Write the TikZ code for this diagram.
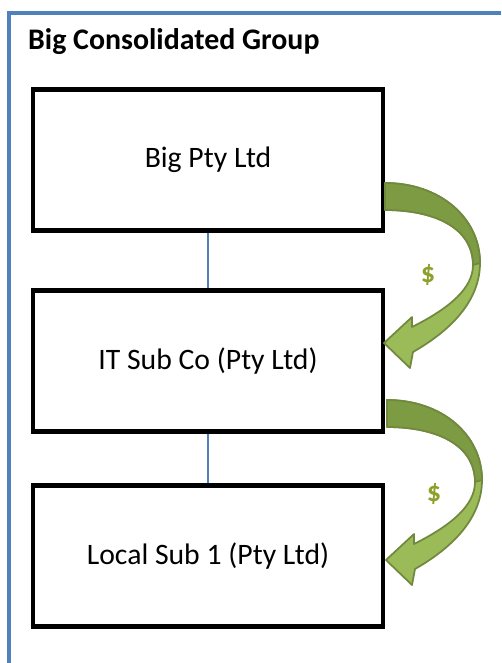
\documentclass[tikz,border=0pt]{standalone}
\usepackage{fontspec}
\setmainfont{Carlito}
\usepackage{tikz}
\usetikzlibrary{positioning}

\definecolor{marco}{HTML}{4F81BD}
\definecolor{verdeclaro}{HTML}{9BBB59}
\definecolor{verdeoscuro}{HTML}{7D9B42}
\definecolor{borde}{HTML}{71893F}
\definecolor{dolar}{HTML}{8E9F2C}

\tikzset{
  empresa/.style={draw, line width=2.3pt, minimum width=7cm, minimum height=2.82cm,
    font=\fontsize{16.9}{20}\selectfont},
  enlace/.style={draw=marco, line width=0.6pt},
  flecha/.pic={
    % cinta completa
    \filldraw[fill=verdeclaro, draw=borde, line width=1pt, line join=round]
      (0,0) .. controls (55,0) and (95,35) .. (95,80)
      .. controls (95,115) and (70,145) .. (28,169)
      -- (25,185) -- (-1,160) -- (27,134) -- (27,144)
      .. controls (65,125) and (88,105) .. (88,82)
      .. controls (88,45) and (50,27) .. (0,27) -- cycle;
    % parte de atras
    \filldraw[fill=verdeoscuro, draw=borde, line width=1pt, line join=round]
      (0,0) .. controls (55,0) and (95,35) .. (95,80)
      -- (88,82) .. controls (88,45) and (50,27) .. (0,27) -- cycle;
  }
}

\begin{document}
\begin{tikzpicture}[x=0.02cm, y=-0.02cm]
  \useasboundingbox (0,0) rectangle (501,663);

  % Marco
  \coordinate (m1) at (9,663);
  \coordinate (m2) at (9,13);
  \coordinate (m3) at (501,13);
  \draw[marco, line width=2.2pt] (m1) -- (m2) -- (m3);
  \node[anchor=west, font=\fontsize{17}{20}\selectfont\bfseries] (titulo) at (22,42) {Big Consolidated Group};

  % Nodos
  \node[empresa] (big) at (208,160) {Big Pty Ltd};
  \node[empresa] (it) at (208,361) {IT Sub Co (Pty Ltd)};
  \node[empresa] (local) at (208,556) {Local Sub 1 (Pty Ltd)};

  % Aristas
  \draw[enlace] (big) -- (it);
  \draw[enlace] (it) -- (local);

  % Flechas de dinero
  \pic at (385,183) {flecha};
  \pic at (387,400) {flecha};
  \node[text=dolar, font=\fontsize{16}{18}\selectfont\bfseries] (d1) at (428,275) {\$};
  \node[text=dolar, font=\fontsize{16}{18}\selectfont\bfseries] (d2) at (434,494) {\$};
\end{tikzpicture}
\end{document}
